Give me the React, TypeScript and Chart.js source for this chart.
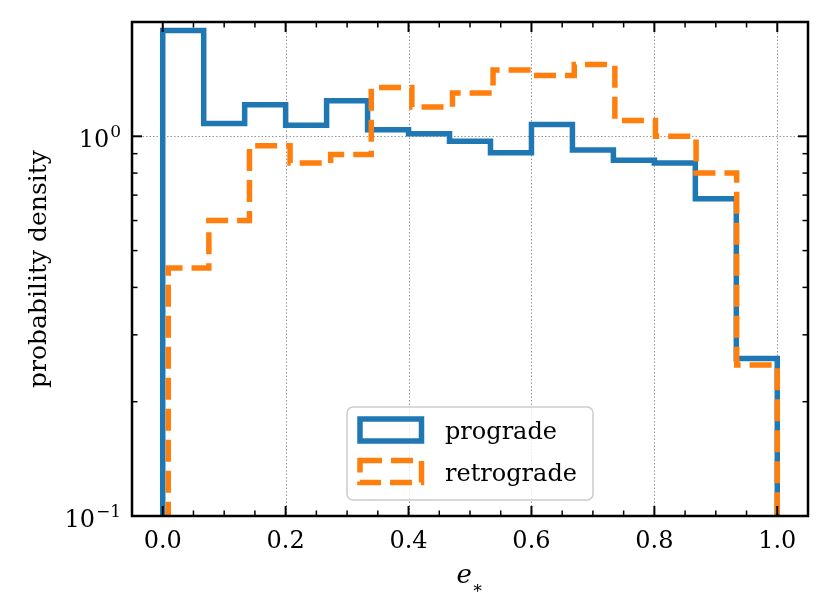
import React, { useEffect, useRef } from 'react';
import { Chart, registerables } from 'chart.js';

Chart.register(...registerables);

// ---- data ----
const PROGRADE_EDGES = [
  0, 0.06667, 0.13333, 0.2, 0.26667, 0.33333, 0.4, 0.46667, 0.53333, 0.6,
  0.66667, 0.73333, 0.8, 0.86667, 0.93333, 1.0,
];
const RETROGRADE_EDGES = [
  0.009, 0.07507, 0.14113, 0.2072, 0.27327, 0.33933, 0.4054, 0.47147, 0.53753,
  0.6036, 0.66967, 0.73573, 0.8018, 0.86787, 0.93393, 1.0,
];
const PROGRADE = [
  1.9, 1.08, 1.21, 1.07, 1.24, 1.04, 1.015, 0.97, 0.905, 1.075, 0.92, 0.865,
  0.85, 0.685, 0.26,
];
const RETROGRADE = [
  0.45, 0.6, 0.945, 0.85, 0.895, 1.345, 1.195, 1.3, 1.495, 1.445, 1.545, 1.1,
  1.0, 0.8, 0.25,
];
const SERIES_LABELS = ['prograde', 'retrograde'];
const X_TITLE = 'e';
const X_TITLE_SUB = '\u2217';
const Y_TITLE = 'probability density';
const X_MAJOR_TICKS = [0, 0.2, 0.4, 0.6, 0.8, 1.0];
const X_TICK_LABELS = ['0.0', '0.2', '0.4', '0.6', '0.8', '1.0'];
const X_MINOR_TICKS = [
  0.05, 0.1, 0.15, 0.25, 0.3, 0.35, 0.45, 0.5, 0.55, 0.65, 0.7, 0.75, 0.85,
  0.9, 0.95,
];
const Y_MAJOR_TICKS = [0.1, 1];
const Y_TICK_BASE = ['10', '10'];
const Y_TICK_EXPONENTS = ['\u22121', '0'];
const Y_MINOR_TICKS = [0.2, 0.3, 0.4, 0.5, 0.6, 0.7, 0.8, 0.9];
const X_MIN = -0.05;
const X_MAX = 1.05;
const Y_MIN = 0.1;
const Y_MAX = 2.0;
const FLOOR = 0.01;

const BLUE = '#1f77b4';
const ORANGE = '#ff7f0e';
const FONT = '"DejaVu Serif", serif';

function stepPoints(edges: number[], values: number[]) {
  const pts: { x: number; y: number }[] = [{ x: edges[0], y: FLOOR }];
  values.forEach((v, i) => {
    pts.push({ x: edges[i], y: v });
    pts.push({ x: edges[i + 1], y: v });
  });
  pts.push({ x: edges[edges.length - 1], y: FLOOR });
  return pts;
}

const decorPlugin = {
  id: 'decor',
  beforeDatasetsDraw(chart: any) {
    const { ctx, chartArea: a, scales } = chart;
    const x = scales.x;
    const y = scales.y;
    ctx.save();
    ctx.strokeStyle = 'rgba(140,140,140,0.9)';
    ctx.lineWidth = 1;
    ctx.setLineDash([1.5, 2]);
    X_MAJOR_TICKS.forEach((v) => {
      const px = Math.round(x.getPixelForValue(v)) + 0.5;
      ctx.beginPath();
      ctx.moveTo(px, a.top);
      ctx.lineTo(px, a.bottom);
      ctx.stroke();
    });
    Y_MAJOR_TICKS.forEach((v) => {
      const py = Math.round(y.getPixelForValue(v)) + 0.5;
      ctx.beginPath();
      ctx.moveTo(a.left, py);
      ctx.lineTo(a.right, py);
      ctx.stroke();
    });
    ctx.restore();
  },
  afterDraw(chart: any) {
    const { ctx, chartArea: a, scales } = chart;
    const x = scales.x;
    const y = scales.y;
    ctx.save();
    ctx.setLineDash([]);
    ctx.strokeStyle = '#000';
    const tick = (x1: number, y1: number, x2: number, y2: number, w: number) => {
      ctx.lineWidth = w;
      ctx.beginPath();
      ctx.moveTo(x1, y1);
      ctx.lineTo(x2, y2);
      ctx.stroke();
    };
    const MAJ = 10;
    const MIN = 5.5;
    X_MAJOR_TICKS.forEach((v) => {
      const px = x.getPixelForValue(v);
      tick(px, a.bottom, px, a.bottom - MAJ, 2);
      tick(px, a.top, px, a.top + MAJ, 2);
    });
    X_MINOR_TICKS.forEach((v) => {
      const px = x.getPixelForValue(v);
      tick(px, a.bottom, px, a.bottom - MIN, 1.5);
      tick(px, a.top, px, a.top + MIN, 1.5);
    });
    Y_MAJOR_TICKS.forEach((v) => {
      const py = y.getPixelForValue(v);
      tick(a.left, py, a.left + MAJ, py, 2);
      tick(a.right, py, a.right - MAJ, py, 2);
    });
    Y_MINOR_TICKS.forEach((v) => {
      const py = y.getPixelForValue(v);
      tick(a.left, py, a.left + MIN, py, 1.5);
      tick(a.right, py, a.right - MIN, py, 1.5);
    });
    // spines
    ctx.lineWidth = 2.5;
    ctx.strokeRect(a.left, a.top, a.right - a.left, a.bottom - a.top);

    // x tick labels
    ctx.fillStyle = '#000';
    ctx.font = `24px ${FONT}`;
    ctx.textAlign = 'center';
    ctx.textBaseline = 'alphabetic';
    X_MAJOR_TICKS.forEach((v, i) => {
      ctx.fillText(X_TICK_LABELS[i], x.getPixelForValue(v), a.bottom + 32);
    });
    // y tick labels (10^n)
    Y_MAJOR_TICKS.forEach((v, i) => {
      const py = y.getPixelForValue(v);
      const right = a.left - 11;
      ctx.font = `17px ${FONT}`;
      const ew = ctx.measureText(Y_TICK_EXPONENTS[i]).width;
      ctx.textAlign = 'right';
      ctx.fillText(Y_TICK_EXPONENTS[i], right, py + 1);
      ctx.font = `24px ${FONT}`;
      ctx.fillText(Y_TICK_BASE[i], right - ew - 1, py + 11);
    });
    // x title
    const cx = (a.left + a.right) / 2;
    ctx.font = `italic 26px ${FONT}`;
    const ewid = ctx.measureText(X_TITLE).width;
    ctx.font = `17px ${FONT}`;
    const swid = ctx.measureText(X_TITLE_SUB).width;
    const startX = cx - (ewid + swid) / 2;
    ctx.textAlign = 'left';
    ctx.font = `italic 26px ${FONT}`;
    ctx.fillText(X_TITLE, startX, a.bottom + 67);
    ctx.font = `17px ${FONT}`;
    ctx.fillText(X_TITLE_SUB, startX + ewid, a.bottom + 77);
    // y title
    ctx.save();
    ctx.translate(46, (a.top + a.bottom) / 2);
    ctx.rotate(-Math.PI / 2);
    ctx.font = `25px ${FONT}`;
    ctx.textAlign = 'center';
    ctx.fillText(Y_TITLE, 0, 0);
    ctx.restore();

    // legend
    const lx = 347;
    const ly = 407;
    const lw = 246;
    const lh = 93;
    const r = 6;
    ctx.beginPath();
    ctx.moveTo(lx + r, ly);
    ctx.arcTo(lx + lw, ly, lx + lw, ly + lh, r);
    ctx.arcTo(lx + lw, ly + lh, lx, ly + lh, r);
    ctx.arcTo(lx, ly + lh, lx, ly, r);
    ctx.arcTo(lx, ly, lx + lw, ly, r);
    ctx.closePath();
    ctx.fillStyle = 'rgba(255,255,255,0.8)';
    ctx.fill();
    ctx.strokeStyle = '#cccccc';
    ctx.lineWidth = 1.5;
    ctx.stroke();
    const dsList = chart.data.datasets;
    const rows = [430, 471.5];
    SERIES_LABELS.forEach((lab, i) => {
      const ds = dsList.find((d: any) => d.label === lab);
      const cy = rows[i];
      ctx.save();
      ctx.strokeStyle = ds.borderColor;
      ctx.lineWidth = ds.borderWidth;
      ctx.lineJoin = 'miter';
      ctx.setLineDash(ds.borderDash || []);
      ctx.strokeRect(360, cy - 11, 61.5, 22);
      ctx.restore();
      ctx.fillStyle = '#000';
      ctx.font = `24px ${FONT}`;
      ctx.textAlign = 'left';
      ctx.fillText(lab, 445, cy + 9);
    });
    ctx.restore();
  },
};

export default function App() {
  const ref = useRef<HTMLCanvasElement | null>(null);
  useEffect(() => {
    document.body.style.margin = '0';
    const canvas = ref.current;
    if (!canvas) return;
    const chart = new Chart(canvas, {
      type: 'line',
      data: {
        datasets: [
          {
            label: SERIES_LABELS[0],
            data: stepPoints(PROGRADE_EDGES, PROGRADE),
            borderColor: BLUE,
            borderWidth: 5.5,
            pointRadius: 0,
            fill: false,
            tension: 0,
            clip: 0,
            borderJoinStyle: 'miter',
            borderCapStyle: 'butt',
            order: 2,
          } as any,
          {
            label: SERIES_LABELS[1],
            data: stepPoints(RETROGRADE_EDGES, RETROGRADE),
            borderColor: ORANGE,
            borderWidth: 5.5,
            borderDash: [22, 9],
            pointRadius: 0,
            fill: false,
            tension: 0,
            clip: 0,
            borderJoinStyle: 'miter',
            borderCapStyle: 'butt',
            order: 1,
          } as any,
        ],
      },
      options: {
        responsive: false,
        animation: false,
        events: [],
        layout: { padding: { left: 132, top: 22, right: 23, bottom: 98 } },
        plugins: { legend: { display: false }, tooltip: { enabled: false } },
        scales: {
          x: { type: 'linear', min: X_MIN, max: X_MAX, display: false },
          y: { type: 'logarithmic', min: Y_MIN, max: Y_MAX, display: false },
        },
      },
      plugins: [decorPlugin],
    });
    return () => chart.destroy();
  }, []);
  return (
    <div style={{ width: 831, height: 614, background: '#fff' }}>
      <canvas ref={ref} width={831} height={614} style={{ display: 'block' }} />
    </div>
  );
}
